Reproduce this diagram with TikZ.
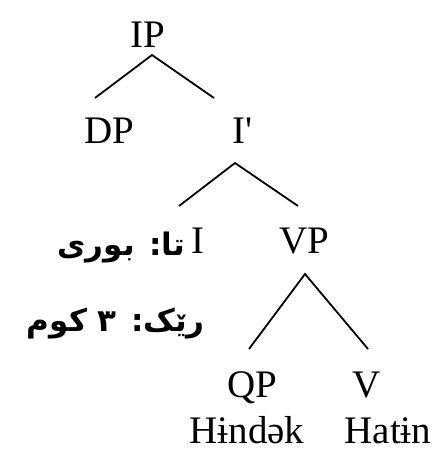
\documentclass[tikz,border=0pt]{standalone}
\usepackage{fontspec}
\setmainfont{Liberation Serif}
\newfontfamily\kurdfont[Script=Arabic]{DejaVu Sans}
\TeXXeTstate=1

\begin{document}
\begin{tikzpicture}[x=1pt,y=-1pt,
    cat/.style={anchor=base,inner sep=0pt,font=\fontsize{39}{45}\selectfont},
    feat/.style={anchor=base east,inner sep=0pt,font=\kurdfont\bfseries\fontsize{31}{37}\selectfont},
    branch/.style={line width=1.8pt}]

        \useasboundingbox (0,0) rectangle (446,463);

        % Labels
        \node[cat] (IP) at (148,47) {IP};
        \node[cat] (DP) at (109,143) {DP};
        \node[cat] (Ibar) at (243,143) {I\textquotesingle};
        \node[cat] (I) at (198,253) {I};
        \node[cat] (VP) at (304,253) {VP};
        \node[cat] (QP) at (252,397) {QP};
        \node[cat] (V) at (367,397) {V};
        \node[cat] (hindek) at (247,443) {Hɨndək};
        \node[cat] (hatin) at (388,443) {Hatɨn};

        % Features of I
        \node[feat] (tense) at (185,255) {\beginR تا: بوری\endR};
        \node[feat] (agr) at (205,331) {\beginR رێک: ٣ کوم\endR};

        % Branch points
        \coordinate (IPtop) at (152,55);
        \coordinate (IPl) at (95,98);
        \coordinate (IPr) at (214,98);
        \coordinate (Ibartop) at (235,163);
        \coordinate (Ibarl) at (179,206);
        \coordinate (Ibarr) at (298,206);
        \coordinate (VPtop) at (305,274);
        \coordinate (VPl) at (249,349);
        \coordinate (VPr) at (368,349);

        % Branches
        \foreach \n in {IP,Ibar,VP}
        {
          \draw[branch] (\n l) -- (\n top) -- (\n r);
        }
    \end{tikzpicture}
\end{document}
